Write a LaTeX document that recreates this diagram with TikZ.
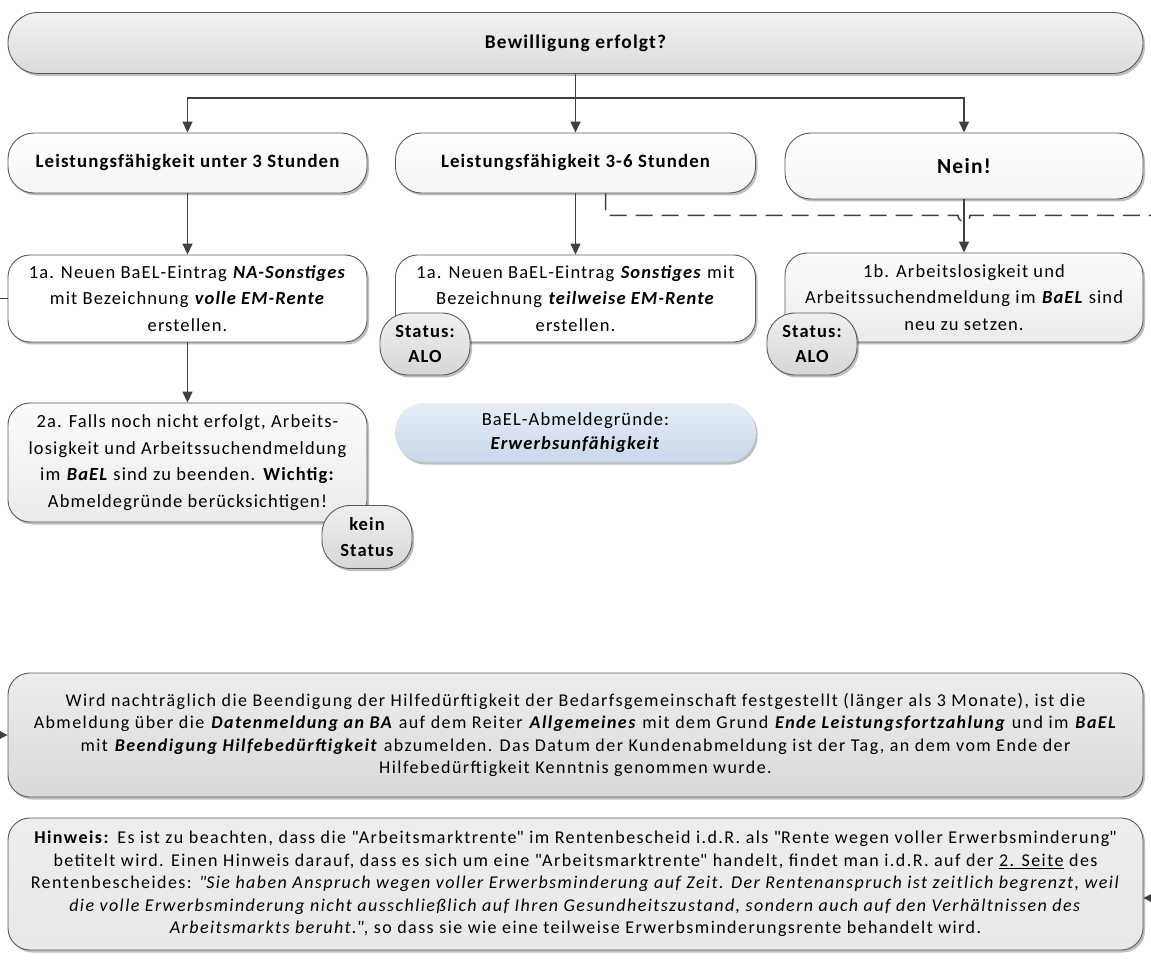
\documentclass[tikz,border=0pt]{standalone}
\usepackage{fontspec}
\setmainfont{Carlito}
\newfontfamily\boxfont[LetterSpace=6]{Carlito}
\newfontfamily\notefont[LetterSpace=8]{Carlito}
\usetikzlibrary{arrows.meta,shadows,calc}

\definecolor{linegray}{HTML}{404040}
\definecolor{bordergray}{HTML}{5A5A5A}
\definecolor{bluetop}{HTML}{E6EEF7}
\definecolor{bluebot}{HTML}{C8D8EA}

\newcommand{\bix}[1]{\textbf{\textit{#1}}}
\newcommand{\dq}{\textquotedbl}

\tikzset{
  softshadow/.style={drop shadow={shadow xshift=2pt, shadow yshift=-2.5pt, opacity=0.25, fill=black}},
  basebox/.style={draw=bordergray, line width=0.9pt, align=center, inner sep=0pt, softshadow},
  headbar/.style={basebox, rounded corners=30pt, top color=gray!10, bottom color=gray!28,
    font=\boxfont\fontsize{19.4}{24}\selectfont\bfseries},
  choicebox/.style={basebox, rounded corners=26pt, top color=white, bottom color=gray!8,
    font=\boxfont\fontsize{18.8}{22}\selectfont\bfseries},
  stepwhite/.style={basebox, rounded corners=22pt, top color=white, bottom color=white,
    font=\boxfont\fontsize{18.5}{26.6}\selectfont},
  stepgray/.style={basebox, rounded corners=22pt, top color=gray!3, bottom color=gray!16,
    font=\boxfont\fontsize{18.5}{26.6}\selectfont},
  badge/.style={basebox, rounded corners=28pt, minimum width=90pt, minimum height=62pt,
    top color=gray!12, bottom color=gray!32, font=\boxfont\fontsize{18.5}{25.5}\selectfont\bfseries},
  infoblue/.style={align=center, inner sep=0pt, rounded corners=28pt, top color=bluetop, bottom color=bluebot,
    softshadow, font=\boxfont\fontsize{18.5}{24}\selectfont},
  notebox/.style={basebox, rounded corners=22pt, font=\notefont\fontsize{18}{22.5}\selectfont},
  conn/.style={draw=linegray, line width=1.5pt},
  arr/.style={conn, -{Triangle[length=11pt,width=10pt]}},
  dashline/.style={draw=linegray, line width=1.5pt, dash pattern=on 17pt off 9pt},
}

\begin{document}
\begin{tikzpicture}[x=1pt,y=-1pt]
  \useasboundingbox (0,0) rectangle (1151,965);
  \clip (0,0) rectangle (1151,965);

  % decision header
  \node[headbar, minimum width=1135pt, minimum height=61pt] (top) at (575.5,43) {Bewilligung erfolgt?};

  % three outcomes
  \node[choicebox, minimum width=359pt, minimum height=60pt] (L1) at (187.5,163) {Leistungsfähigkeit unter 3 Stunden};
  \node[choicebox, minimum width=360pt, minimum height=60pt] (M1) at (575.5,163) {Leistungsfähigkeit 3-6 Stunden};
  \node[choicebox, minimum width=358pt, minimum height=66pt, font=\boxfont\fontsize{21.5}{26}\selectfont\bfseries] (R1) at (964,166) {Nein!};

  % steps
  \node[stepwhite, minimum width=359pt, minimum height=87pt] (S1L) at (187.5,298.5)
    {1a. Neuen BaEL-Eintrag \bix{NA-Sonstiges}\\ mit Bezeichnung \bix{volle EM-Rente}\\ erstellen.};
  \node[stepwhite, minimum width=360pt, minimum height=87pt] (S1M) at (575.5,298.5)
    {1a. Neuen BaEL-Eintrag \bix{Sonstiges} mit\\ Bezeichnung \bix{teilweise EM-Rente}\\ erstellen.};
  \node[stepgray, minimum width=358pt, minimum height=89pt] (S1R) at (964,297.5)
    {1b. Arbeitslosigkeit und\\ Arbeitssuchendmeldung im \bix{BaEL} sind\\ neu zu setzen.};
  \node[stepgray, minimum width=359pt, minimum height=119pt] (S2L) at (187.5,462.5)
    {2a. Falls noch nicht erfolgt, Arbeits-\\ losigkeit und Arbeitssuchendmeldung\\ im \bix{BaEL} sind zu beenden. \textbf{Wichtig:}\\ Abmeldegründe berücksichtigen!};

  % status badges
  \node[badge] (BM) at (425,344) {Status:\\ ALO};
  \node[badge] (BR) at (812,344) {Status:\\ ALO};
  \node[badge, minimum height=63pt] (BK) at (367,537) {kein\\ Status};

  % reasons for deregistration
  \node[infoblue, minimum width=360pt, minimum height=59pt] (AB) at (575.5,432.5)
    {BaEL-Abmeldegründe:\\ \bix{Erwerbsunfähigkeit}};

  % notes at the bottom
  \node[notebox, top color=gray!14, bottom color=gray!30, minimum width=1135pt, minimum height=124pt] (N1) at (575.5,735)
    {Wird nachträglich die Beendigung der Hilfedürftigkeit der Bedarfsgemeinschaft festgestellt (länger als 3 Monate), ist die\\
     Abmeldung über die \bix{Datenmeldung an BA} auf dem Reiter \bix{Allgemeines} mit dem Grund \bix{Ende Leistungsfortzahlung} und im \bix{BaEL}\\
     mit \bix{Beendigung Hilfebedürftigkeit} abzumelden. Das Datum der Kundenabmeldung ist der Tag, an dem vom Ende der\\
     Hilfebedürftigkeit Kenntnis genommen wurde.};
  \node[notebox, top color=gray!14, bottom color=gray!18, minimum width=1135pt, minimum height=132pt] (N2) at (575.5,884)
    {\textbf{Hinweis:} Es ist zu beachten, dass die \dq Arbeitsmarktrente\dq{} im Rentenbescheid i.d.R. als \dq Rente wegen voller Erwerbsminderung\dq\\
     betitelt wird. Einen Hinweis darauf, dass es sich um eine \dq Arbeitsmarktrente\dq{} handelt, findet man i.d.R. auf der \underline{2. Seite} des\\
     Rentenbescheides: \textit{\dq Sie haben Anspruch wegen voller Erwerbsminderung auf Zeit. Der Rentenanspruch ist zeitlich begrenzt, weil}\\
     \textit{die volle Erwerbsminderung nicht ausschließlich auf Ihren Gesundheitszustand, sondern auch auf den Verhältnissen des}\\
     \textit{Arbeitsmarkts beruht.\dq}, so dass sie wie eine teilweise Erwerbsminderungsrente behandelt wird.};

  % branching from the header
  \coordinate (J) at ($(top.south)+(0,24)$);
  \draw[conn] (top.south) -- (J);
  \draw[arr] (J) -| (L1.north);
  \draw[arr] (J) -| (R1.north);
  \draw[arr] (J) -- (M1.north);

  % step arrows
  \draw[arr] (L1.south) -- (S1L.north);
  \draw[arr] (M1.south) -- (S1M.north);
  \draw[arr] (R1.south) -- (S1R.north);
  \draw[arr] (S1L.south) -- (S2L.north);

  % dashed link leaving to the right, hopping over the arrow
  \coordinate (D0) at ($(M1.south)+(30,0)$);
  \coordinate (D1) at ($(D0)+(0,22)$);
  \coordinate (Dh) at (R1.south |- D1);
  \coordinate (Dend) at (1160,0 |- D1);
  \draw[dashline] (D0) -- (D1) -- ($(Dh)+(-6,0)$) arc[start angle=180, end angle=360, radius=6pt] -- (Dend);

  % links entering from outside
  \coordinate (inL) at (0,0 |- S1L.west);
  \draw[conn] (inL) -- (S1L.west);
  \coordinate (inN1) at (-4,0 |- N1.west);
  \draw[conn, -{Triangle[length=10pt,width=10pt]}] (inN1) -- (N1.west);
  \coordinate (inN2) at (1165,898);
  \draw[conn, -{Triangle[length=10pt,width=10pt]}] (inN2) -- (inN2 -| N2.east);
\end{tikzpicture}
\end{document}
